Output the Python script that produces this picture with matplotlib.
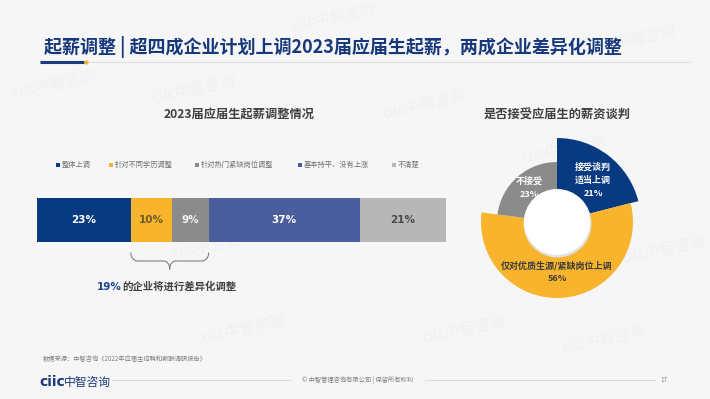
import numpy as np
import matplotlib
matplotlib.use("Agg")
import matplotlib.pyplot as plt
from matplotlib.patches import Wedge, Circle, Rectangle

plt.rcParams['font.family'] = ['Noto Sans CJK SC', 'DejaVu Sans']

# bar chart data
bar_labels = ["整体上调", "针对不同学历调整", "针对热门紧缺岗位调整", "基本持平，没有上涨", "不清楚"]
bar_values = [23, 10, 9, 37, 21]
bar_colors = ["#073a80", "#f7b42c", "#8b8b8b", "#4a5d9c", "#b7b7b7"]
bar_text_colors = ["white", "#6b5a2a", "#f2f2f2", "white", "#4a4a4a"]

# donut data
pie_labels = ["接受谈判\n适当上调", "仅对优质生源/紧缺岗位上调", "不接受"]
pie_values = [21, 56, 23]
pie_colors = ["#073a80", "#f7b42c", "#8b8b8b"]
pie_radius = [84, 76, 60]

W, H = 710, 399
fig = plt.figure(figsize=(W / 100, H / 100), dpi=100)
fig.patch.set_facecolor("#f6f6f7")

bg = fig.add_axes([0, 0, 1, 1])
bg.set_xlim(0, W)
bg.set_ylim(H, 0)
bg.axis("off")

# faint watermarks
for wx, wy in [(10, 85), (150, 90), (290, 18), (380, 105), (520, 150), (590, 40),
               (620, 250), (170, 245), (200, 330), (420, 330), (560, 340)]:
    bg.text(wx, wy, "ciic中智咨询", fontsize=11, color="#eff0f2", rotation=12,
            ha="left", va="center", zorder=0)

# header
bg.text(44, 47, "起薪调整 | 超四成企业计划上调2023届应届生起薪，两成企业差异化调整",
        fontsize=13, fontweight="bold", color="#17387a", va="center", ha="left")
bg.plot([40, 690], [62, 62], color="#dedfe3", lw=0.8)
bg.plot([40, 84], [62, 62], color="#1a3a7a", lw=2.2, solid_capstyle="butt")
bg.plot([86], [62], marker="o", ms=2, color="#f7b42c")

# bar title + legend
bg.text(239, 115, "2023届应届生起薪调整情况", fontsize=8.8, fontweight="bold",
        color="#404040", ha="center", va="center")
legend_x = [56, 109, 195, 298, 392]
for lx, lab, col in zip(legend_x, bar_labels, bar_colors):
    bg.add_patch(Rectangle((lx, 162.5), 4, 4, color=col, lw=0))
    bg.text(lx + 5.5, 165, lab, fontsize=5.2, color="#707070", ha="left", va="center")

# stacked bar
axb = fig.add_axes([36.7 / W, 1 - 242 / H, 409.3 / W, 44 / H])
axb.set_xlim(0, sum(bar_values))
axb.set_ylim(-0.5, 0.5)
axb.axis("off")
left = np.concatenate([[0], np.cumsum(bar_values)[:-1]])
axb.barh(0, bar_values, left=left, height=1, color=bar_colors, lw=0)
for l, v, tc in zip(left, bar_values, bar_text_colors):
    axb.text(l + v / 2, 0, f"{v}%", ha="center", va="center", fontsize=7.5,
             fontweight="bold", color=tc, family=["DejaVu Sans"])

# curly brace under the two middle segments
x0 = 36.7 + 409.3 * (bar_values[0]) / 100
x1 = 36.7 + 409.3 * (bar_values[0] + bar_values[1] + bar_values[2]) / 100
xm = (x0 + x1) / 2
t = np.linspace(0, 1, 40)
# outer quarter curve (down from the top end), straight run, inner quarter (down to tip)
ex = np.concatenate([x0 + 7 * (1 - np.cos(t * np.pi / 2)), [xm - 6],
                     xm - 6 + 6 * np.sin(t * np.pi / 2)])
ey = np.concatenate([253 + 8 * np.sin(t * np.pi / 2), [261],
                     261 + 8 * (1 - np.cos(t * np.pi / 2))])
bg.plot(ex, ey, color="#707070", lw=0.7)
bg.plot(2 * xm - ex, ey, color="#707070", lw=0.7)
diff = bar_values[1] + bar_values[2]
bg.text(122, 287, f"{diff}%", fontsize=7.5, fontweight="bold", color="#1f4192",
        ha="right", va="center", family=["DejaVu Sans"])
bg.text(122.5, 287, "的企业将进行差异化调整", fontsize=7.5, fontweight="bold",
        color="#404040", ha="left", va="center")

# donut
cx, cy = 557, 222
bg.text(cx, 115, "是否接受应届生的薪资谈判", fontsize=8.8, fontweight="bold",
        color="#404040", ha="center", va="center")
axp = fig.add_axes([(cx - 90) / W, 1 - (cy + 90) / H, 180 / W, 180 / H])
axp.set_xlim(-90, 90)
axp.set_ylim(-90, 90)
axp.axis("off")
start = 90.0
for v, col, r in zip(pie_values, pie_colors, pie_radius):
    span = 360 * v / sum(pie_values)
    axp.add_patch(Wedge((0, 0), r, start - span, start, color=col, lw=0))
    start -= span
axp.add_patch(Circle((0.5, -1.5), 34, color="#e3e3e6", lw=0))
axp.add_patch(Circle((0, 0), 33, color="white", lw=0))

axp.text(36, 42, f"{pie_labels[0]}\n{pie_values[0]}%", ha="center", va="center",
         fontsize=6.5, fontweight="bold", color="white", linespacing=1.55)
axp.text(0, -50, f"{pie_labels[1]}\n{pie_values[1]}%", ha="center", va="center",
         fontsize=6.5, fontweight="bold", color="#3c3c3c", linespacing=1.55)
axp.text(-28, 34, f"{pie_labels[2]}\n{pie_values[2]}%", ha="center", va="center",
         fontsize=6.5, fontweight="bold", color="white", linespacing=1.55)

# footer
bg.text(43, 359, "数据来源：中智咨询《2022年应届生招聘和薪酬调研报告》", fontsize=4.5,
        color="#808080", ha="left", va="center")
bg.text(39, 382, "ciic", fontsize=10, fontweight="bold", color="#1a3a7a",
        ha="left", va="center", family=["DejaVu Sans"])
bg.text(64, 382, "中智咨询", fontsize=8.5, color="#1a3a7a", ha="left", va="center")
bg.plot([112, 290], [380, 380], color="#d8d8dc", lw=0.6)
bg.plot([425, 655], [380, 380], color="#d8d8dc", lw=0.6)
bg.text(357, 380, "© 中智管理咨询有限公司 | 保留所有权利", fontsize=4.5, color="#808080",
        ha="center", va="center")
bg.text(660, 380, "17", fontsize=4.5, color="#808080", ha="left", va="center")

fig.savefig("out.png", dpi=100, facecolor=fig.get_facecolor())
